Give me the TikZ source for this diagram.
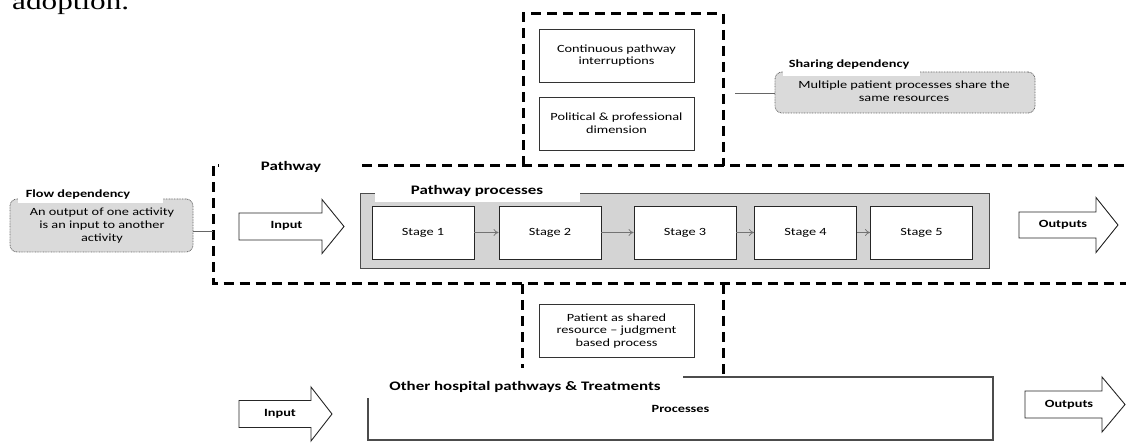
\documentclass[tikz,border=0pt]{standalone}
\usepackage{fontspec}
\usetikzlibrary{arrows.meta}
\setmainfont{Carlito}[FakeStretch=1.3]
\newfontfamily\serifpage{Liberation Serif}[FakeStretch=1.3]
\newcommand\fsn{\fontsize{11}{12.7}\selectfont}
\newcommand\fsb{\fontsize{11}{12.7}\selectfont\bfseries}
\newcommand\fst{\fontsize{13}{15}\selectfont\bfseries}
\definecolor{procgray}{HTML}{D4D4D4}
\definecolor{callgray}{HTML}{DADADA}
\tikzset{
  dashbox/.style={line width=3pt, dash pattern=on 10pt off 6pt},
  txtbox/.style={draw=black!80, line width=0.9pt, fill=white, minimum width=155pt, minimum height=53pt, align=center, font=\fsn, inner sep=2pt},
  stagebox/.style={draw=black!85, line width=0.9pt, fill=white, minimum width=102pt, minimum height=53pt, font=\fsn, inner sep=1pt},
  stagearrow/.style={draw=black!55, line width=0.7pt, -{To[length=5pt,width=7pt]}},
  bigarrow/.style={draw=black!85, line width=0.9pt, fill=white, line join=miter},
  callout/.style={draw=black!60, line width=0.8pt, dash pattern=on 0.8pt off 0.8pt, fill=callgray, rounded corners=7pt},
  conn/.style={draw=black!60, line width=0.8pt},
  whitecover/.style={fill=white, draw=none},
}
\begin{document}
\begin{tikzpicture}[x=1pt,y=-1pt]
\clip (0,0) rectangle (1126,443);
\fill[white] (0,0) rectangle (1126,443);

% cropped page text
\node[anchor=base west, inner sep=0pt, font=\serifpage\fontsize{24}{28}\selectfont] (adopt) at (12,10) {adoption.};

% dashed outlines
\draw[dashbox] (523,166) -- (523,14) -- (723,14) -- (723,166);
\draw[dashbox] (1140,165.5) -- (213,165.5) -- (213,284) -- (1140,284);
\draw[dashbox] (522,284) -- (522,372);
\draw[dashbox] (723,284) -- (723,375);

% pathway label
\fill[whitecover] (219,155) rectangle (357,178);
\node[font=\fst, inner sep=0pt] (pathway) at (291,167) {Pathway};

% top boxes
\node[txtbox] (cont) at (616.5,55.5) {Continuous pathway\\interruptions};
\node[txtbox] (pol) at (616.5,123.5) {Political \& professional\\dimension};

% sharing dependency
\node[callout, minimum width=260pt, minimum height=41pt, inner sep=0pt] (share) at (905,92.5) {};
\fill[whitecover] (783,57) rectangle (920,76);
\node[font=\fsb, inner sep=0pt] (sharelbl) at (849,65) {Sharing dependency};
\node[font=\fsn, align=center, inner sep=0pt] (sharetxt) at (904,91) {Multiple patient processes share the\\same resources};
\coordinate (se) at (735,93);
\draw[conn] (se) -- (se -| share.west);

% flow dependency
\node[callout, minimum width=183pt, minimum height=53pt, inner sep=0pt] (flow) at (101.5,225.5) {};
\fill[whitecover] (18,188) rectangle (163,203);
\node[font=\fsb, inner sep=0pt] (flowlbl) at (78,195) {Flow dependency};
\node[font=\fsn, align=center, inner sep=0pt] (flowtxt) at (102,225.5) {An output of one activity\\is an input to another\\activity};
\coordinate (fe) at (213,231);
\draw[conn] (flow.east |- fe) -- (fe);

% pathway processes
\node[draw=black!70, line width=0.9pt, fill=procgray, minimum width=629pt, minimum height=75pt, inner sep=0pt] (pp) at (674.5,230.5) {};
\fill[whitecover] (375,185) rectangle (580,202);
\node[font=\fst, inner sep=0pt] (pplbl) at (477,191) {Pathway processes};

\node[stagebox] (s1) at (423,232.5) {Stage 1};
\node[stagebox] (s2) at (550,232.5) {Stage 2};
\node[stagebox] (s3) at (685,232.5) {Stage 3};
\node[stagebox] (s4) at (805.5,232.5) {Stage 4};
\node[stagebox] (s5) at (921.5,232.5) {Stage 5};
\draw[stagearrow] (s1) -- (s2);
\draw[stagearrow] (s2) -- (s3);
\draw[stagearrow] (s3) -- (s4);
\draw[stagearrow] (s4) -- (s5);

% big arrows
\draw[bigarrow] (239,213) -- (322,213) -- (322,199.5) -- (344,226.5) -- (322,253.5) -- (322,240) -- (239,240) -- cycle;
\node[font=\fsb, inner sep=0pt] (in1) at (286.5,226) {Input};
\draw[bigarrow] (1019,212) -- (1096,212) -- (1096,197.5) -- (1118,225) -- (1096,252.5) -- (1096,238) -- (1019,238) -- cycle;
\node[font=\fsb, inner sep=0pt] (out1) at (1063,225) {Outputs};
\draw[bigarrow] (239,400.5) -- (311,400.5) -- (311,387) -- (332,414) -- (311,441) -- (311,427.5) -- (239,427.5) -- cycle;
\node[font=\fsb, inner sep=0pt] (in2) at (280,414) {Input};
\draw[bigarrow] (1025,391) -- (1102,391) -- (1102,377) -- (1125,404.5) -- (1102,432) -- (1102,418) -- (1025,418) -- cycle;
\node[font=\fsb, inner sep=0pt] (out2) at (1069,405) {Outputs};

% patient box
\node[txtbox] (patient) at (616.5,331) {Patient as shared\\resource -- judgment\\based process};

% other hospital pathways
\node[draw=black!70, line width=1.1pt, minimum width=625pt, minimum height=63pt, inner sep=0pt] (other) at (680.5,408.5) {};
\fill[whitecover] (366,368) rectangle (683,398);
\node[font=\fst, inner sep=0pt] (otherlbl) at (525,387) {Other hospital pathways \& Treatments};
\node[font=\fsb, inner sep=0pt] (proc) at (680.5,409) {Processes};
\end{tikzpicture}
\end{document}
